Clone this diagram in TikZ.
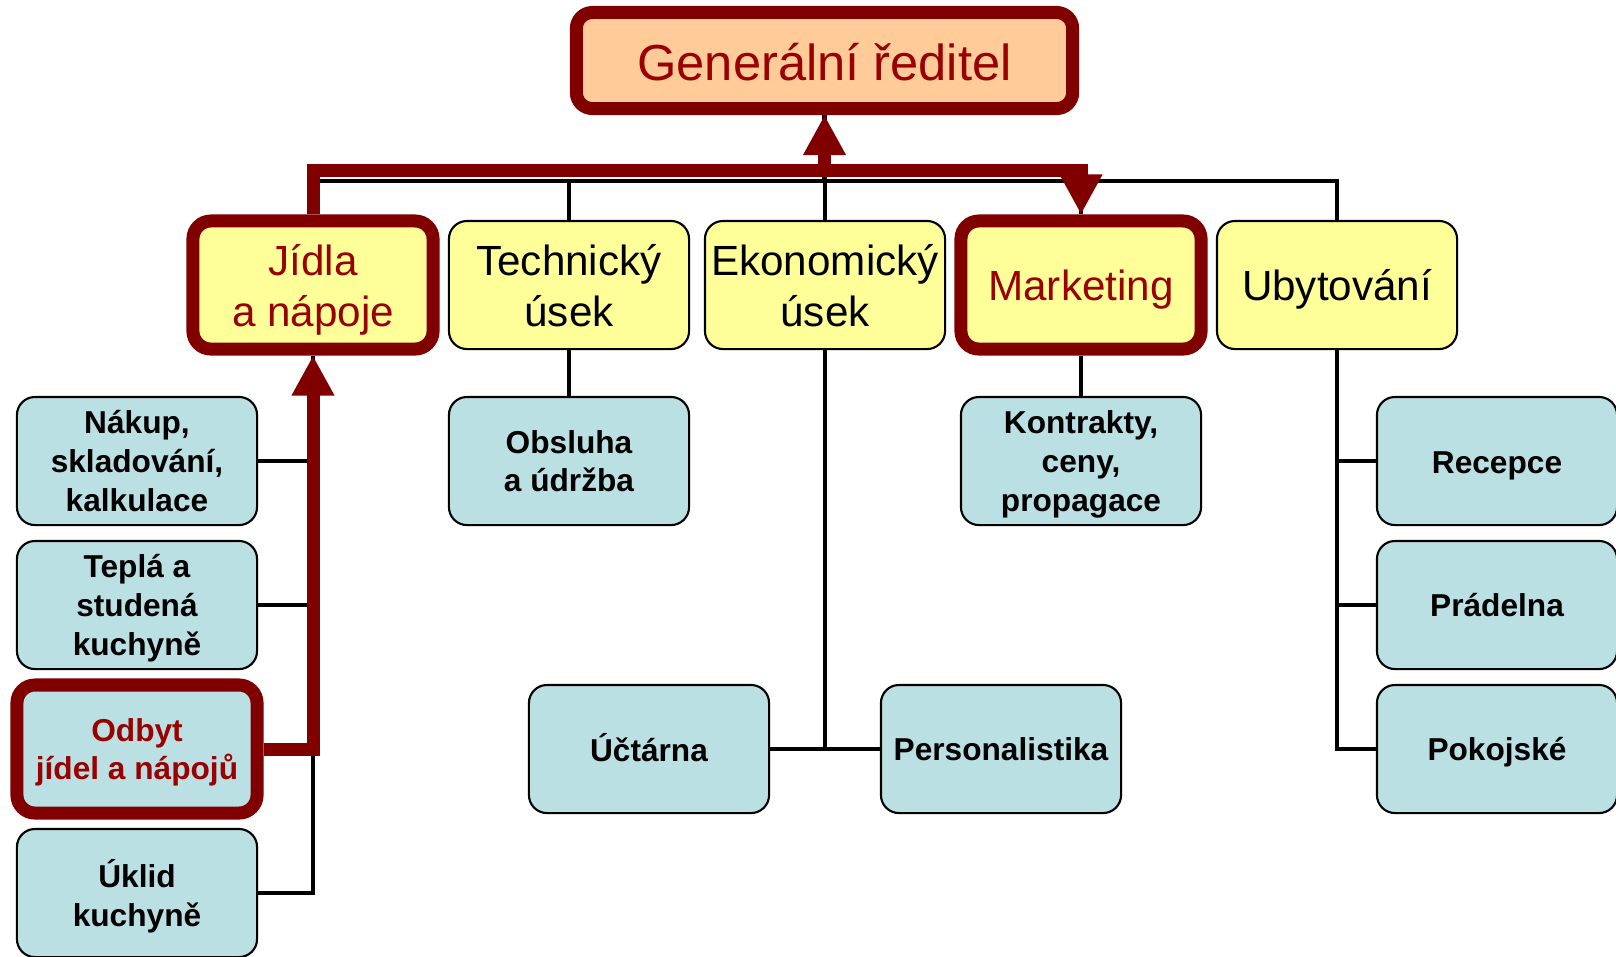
\documentclass[tikz,border=0pt]{standalone}
\usepackage{fontspec}
\setmainfont{Liberation Sans}
\usepackage{tikz}
\usetikzlibrary{arrows.meta}
\definecolor{wine}{HTML}{800000}
\definecolor{winetext}{HTML}{990000}
\definecolor{peach}{HTML}{FFCC99}
\definecolor{lemon}{HTML}{FFFF99}
\definecolor{pale}{HTML}{BBE0E3}
\tikzset{
  boss/.style={draw=wine, line width=3.7pt, fill=peach, rounded corners=0.16cm, minimum width=4.96cm, minimum height=0.96cm, inner sep=0pt, text=winetext, font=\fontsize{14.4}{16}\selectfont, text height=11.5pt, text depth=0pt},
  dept/.style={draw, line width=0.6pt, fill=lemon, rounded corners=0.18cm, minimum width=2.4cm, minimum height=1.28cm, inner sep=0pt, align=center, font=\fontsize{12}{14.5}\selectfont, text depth=0pt},
  deptHi/.style={dept, draw=wine, line width=3.7pt, text=winetext},
  unit/.style={draw, line width=0.6pt, fill=pale, rounded corners=0.18cm, minimum width=2.4cm, minimum height=1.28cm, inner sep=0pt, align=center, font=\fontsize{9}{11}\selectfont\bfseries, text depth=0pt},
  unitHi/.style={unit, draw=wine, line width=3.7pt, text=winetext},
  link/.style={line width=1.3pt},
  redLink/.style={draw=wine, line width=3.7pt, -{Triangle[length=0.4cm, width=0.4cm]}}
}

\begin{document}
\begin{tikzpicture}[x=0.01cm, y=-0.01cm]
  \useasboundingbox (0,0) rectangle (1616,956);

  % Director
  \node[boss] (gen) at (824.5,60.5) {Generální ředitel};

  % Departments
  \node[deptHi] (jidla) at (313,285) {Jídla\\a nápoje};
  \node[dept] (tech) at (569,285) {Technický\\úsek};
  \node[dept] (ekon) at (825,285) {Ekonomický\\úsek};
  \node[deptHi] (mark) at (1081,285) {Marketing};
  \node[dept] (ubyt) at (1337,285) {Ubytování};

  % Units
  \node[unit] (nakup) at (137,461) {Nákup,\\skladování,\\kalkulace};
  \node[unit] (tepla) at (137,605) {Teplá a\\studená\\kuchyně};
  \node[unitHi] (odbyt) at (137,749) {Odbyt\\jídel a nápojů};
  \node[unit] (uklid) at (137,893) {Úklid\\kuchyně};
  \node[unit] (obsluha) at (569,461) {Obsluha\\a údržba};
  \node[unit, text height=7pt] (uctarna) at (649,749) {Účtárna};
  \node[unit] (personal) at (1001,749) {Personalistika};
  \node[unit] (kontr) at (1081,461) {Kontrakty,\\ceny,\\propagace};
  \node[unit, text height=7pt] (recepce) at (1497,461) {Recepce};
  \node[unit] (pradelna) at (1497,605) {Prádelna};
  \node[unit] (pokoj) at (1497,749) {Pokojské};

  % Black tree
  \coordinate (bus) at (0,181);
  \draw[link] (gen.south) -- (gen.south |- bus);
  \draw[link] (jidla.north) |- (ubyt.north |- bus) -- (ubyt.north);
  \foreach \n in {tech,ekon,mark}
    \draw[link] (\n.north) -- (\n.north |- bus);
  \draw[link] (jidla.south) |- (uklid.east);
  \foreach \n in {nakup,tepla,odbyt}
    \draw[link] (\n.east) -- (\n.east -| jidla.south);
  \draw[link] (tech.south) -- (obsluha.north);
  \draw[link] (ekon.south) -- (ekon.south |- uctarna);
  \draw[link] (uctarna.east) -- (personal.west);
  \draw[link] (mark.south) -- (kontr.north);
  \draw[link] (ubyt.south) |- (pokoj.west);
  \foreach \n in {recepce,pradelna}
    \draw[link] (\n.west) -- (\n.west -| ubyt.south);

  % Red path
  \coordinate (redbus) at (0,170);
  \draw[redLink] (odbyt.east) -| (jidla.south);
  \draw[redLink] (jidla.north) |- (mark.north |- redbus) -- (mark.north);
  \draw[redLink] (gen.south |- redbus) -- (gen.south);
\end{tikzpicture}
\end{document}
